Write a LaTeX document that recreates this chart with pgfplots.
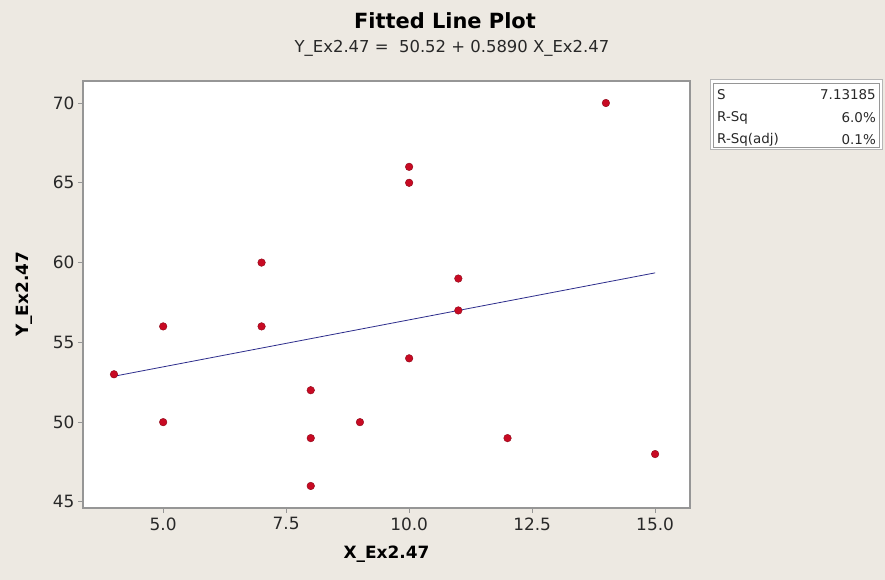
\documentclass[border=0pt]{standalone}
\usepackage{pgfplots}
\pgfplotsset{compat=1.18}
\usepackage{fontspec}
\setmainfont{DejaVu Sans}
\definecolor{bg}{RGB}{237,233,226}
\definecolor{frm}{RGB}{150,150,150}
\definecolor{pt}{RGB}{200,10,35}
\definecolor{fitline}{RGB}{45,45,140}
\definecolor{txt}{RGB}{40,40,40}
\begin{document}
\begin{tikzpicture}[x=1bp,y=1bp]
\fill[bg] (0,0) rectangle (885,580);
\begin{axis}[
  at={(83bp,72bp)}, anchor=south west,
  scale only axis, width=607bp, height=427bp,
  xmin=3.37, xmax=15.71, ymin=44.62, ymax=71.38,
  axis background/.style={fill=white},
  axis line style={frm, line width=1.4bp},
  xtick={5,7.5,10,12.5,15},
  ytick={45,50,55,60,65,70},
  xticklabels={5.0,7.5,10.0,12.5,15.0},
  tick align=outside, tick pos=left,
  major tick length=5bp,
  tick style={frm, line width=0.9bp},
  /pgf/number format/assume math mode=true,
  ticklabel style={font=\fontsize{17}{20}\selectfont, text=txt},
  xticklabel style={yshift=-1bp},
  xlabel={\textbf{X\_Ex2.47}},
  ylabel={\textbf{Y\_Ex2.47}},
  xlabel style={font=\fontsize{17}{20}\selectfont, yshift=-9bp},
  ylabel style={font=\fontsize{17}{20}\selectfont, yshift=14bp},
  clip=false,
]
\addplot[fitline, line width=0.8bp] coordinates {(4,52.876) (15,59.355)};
\addplot[only marks, mark=*, mark size=3.8bp, mark options={fill=pt, draw=pt!70!black, line width=0.4bp}] coordinates {
(4,53) (5,56) (5,50) (7,60) (7,56) (8,52) (8,49) (8,46) (9,50)
(10,66) (10,65) (10,54) (11,59) (11,57) (12,49) (14,70) (15,48)};
\end{axis}
\node[font=\bfseries\fontsize{21}{24}\selectfont, text=black] at (445,559) {Fitted Line Plot};
\node[font=\fontsize{16.5}{20}\selectfont, text=txt] at (452,532) {Y\_Ex2.47 =\ \ 50.52 + 0.5890 X\_Ex2.47};
\draw[frm!70, line width=1bp, fill=white] (710,430) rectangle (882,500);
\draw[frm, line width=0.8bp] (713,433) rectangle (879,497);
\begin{scope}[font=\fontsize{13.5}{15}\selectfont, text=txt]
\node[anchor=west, inner sep=1bp] at (716,485) {S};
\node[anchor=east, inner sep=1bp] at (877,485) {7.13185};
\node[anchor=west, inner sep=1bp] at (716,462) {R-Sq};
\node[anchor=east, inner sep=1bp] at (877,462) {6.0\%};
\node[anchor=west, inner sep=1bp] at (716,440) {R-Sq(adj)};
\node[anchor=east, inner sep=1bp] at (877,440) {0.1\%};
\end{scope}
\end{tikzpicture}
\end{document}
